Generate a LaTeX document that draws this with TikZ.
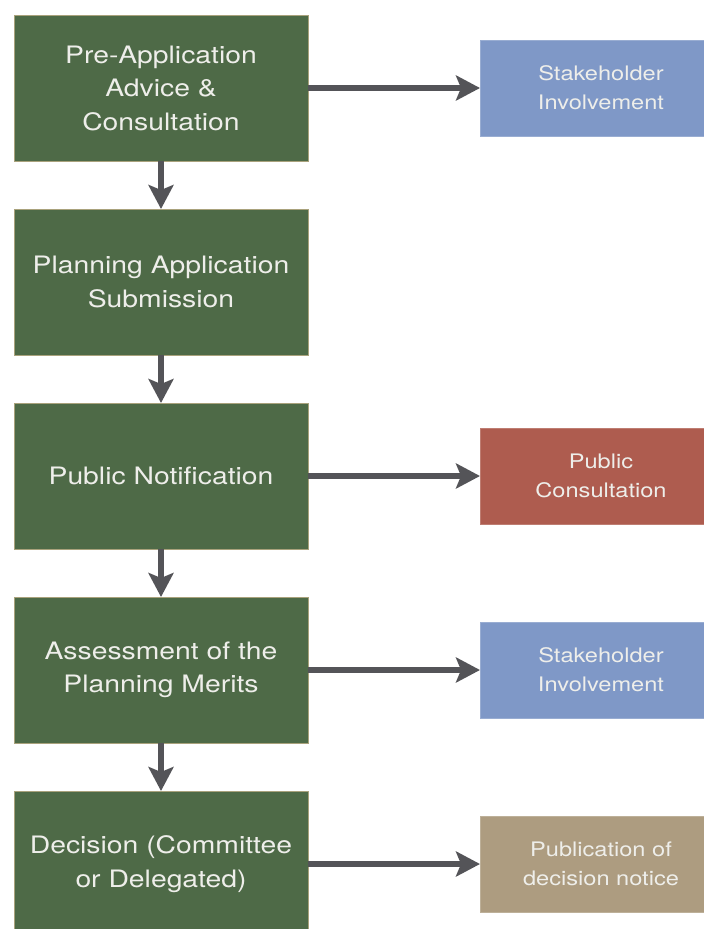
\documentclass[tikz,border=0pt]{standalone}
\usepackage{fontspec}
\newfontfamily\boxfont{TeX Gyre Heros}[FakeStretch=1.18]
\usepackage{tikz}
\usetikzlibrary{arrows.meta,positioning}
\definecolor{stagegreen}{HTML}{4E6A47}
\definecolor{stageedge}{HTML}{A9A27C}
\definecolor{steelblue}{HTML}{7F98C7}
\definecolor{brick}{HTML}{AE5C4F}
\definecolor{sand}{HTML}{AD9C80}
\definecolor{arrowgrey}{HTML}{545458}
\definecolor{boxtext}{HTML}{EEEEEA}
\tikzset{
  stagebox/.style={
    rectangle, draw=stageedge, fill=stagegreen, line width=0.8pt,
    minimum width=294pt, minimum height=146pt,
    font=\boxfont\fontsize{24}{33.5}\selectfont, text=boxtext,
    align=center, inner sep=0pt, outer sep=0pt
  },
  sidebox/.style={
    rectangle, draw=#1!80!white, fill=#1, line width=0.8pt,
    minimum width=242pt, minimum height=96pt,
    font=\boxfont\fontsize{20}{29}\selectfont, text=boxtext,
    align=center, inner sep=0pt, outer sep=0pt
  },
  sidebox/.default=steelblue,
  flowarrow/.style={
    -{Stealth[length=24pt, width=25pt, inset=5pt]}, line width=6pt, color=#1
  },
  flowarrow/.default=arrowgrey,
}
\begin{document}
\begin{tikzpicture}

% Page frame
\clip (0,0) rectangle (704pt,-929pt);

% Main stages
\node[stagebox, anchor=north west] (advice) at (14pt,-15pt) {Pre-Application\\Advice \&\\Consultation};
\node[stagebox, below=48pt of advice] (submit) {Planning Application\\Submission};
\node[stagebox, below=48pt of submit] (notify) {Public Notification};
\node[stagebox, below=48pt of notify] (assess) {Assessment of the\\Planning Merits};
\node[stagebox, below=48pt of assess] (decide) {Decision (Committee\\or Delegated)};

% Side activities
\node[sidebox, anchor=west, right=172pt of advice] (involve1) {Stakeholder\\Involvement};
\node[sidebox=brick, anchor=west, right=172pt of notify] (consult) {Public\\Consultation};
\node[sidebox, anchor=west, right=172pt of assess] (involve2) {Stakeholder\\Involvement};
\node[sidebox=sand, anchor=west, right=172pt of decide] (publish) {Publication of\\decision notice};

% Flow down the stages
\draw[flowarrow] (advice) -- (submit);
\draw[flowarrow] (submit) -- (notify);
\draw[flowarrow] (notify) -- (assess);
\draw[flowarrow] (assess) -- (decide);

% Links out to the side activities
\draw[flowarrow] (advice) -- (involve1);
\draw[flowarrow] (notify) -- (consult);
\draw[flowarrow] (assess) -- (involve2);
\draw[flowarrow] (decide) -- (publish);

\end{tikzpicture}
\end{document}
